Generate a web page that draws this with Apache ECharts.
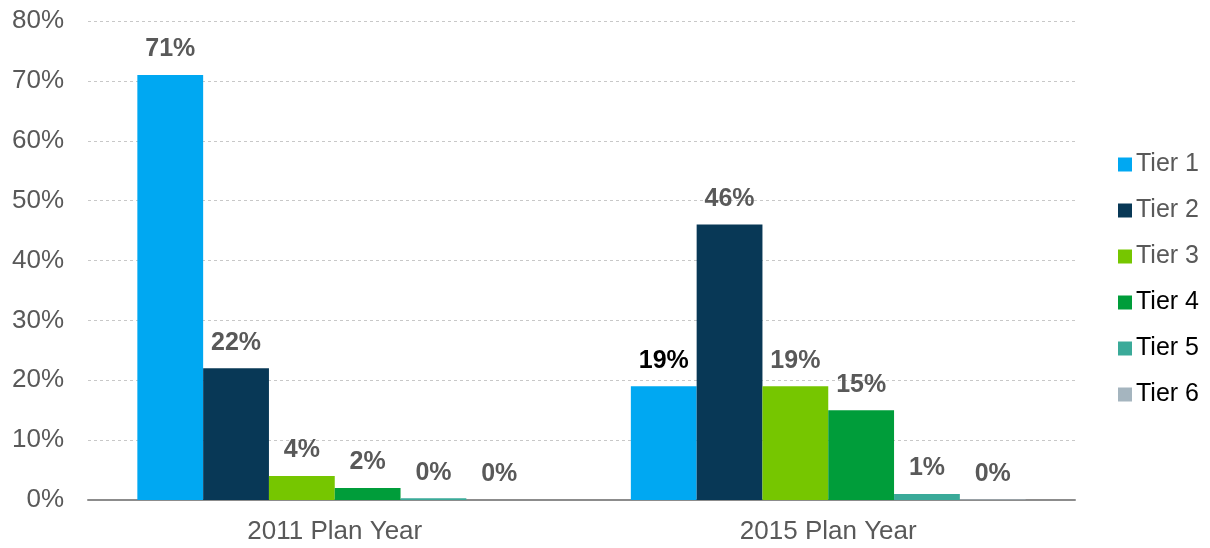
<!DOCTYPE html>
<html><head><meta charset="utf-8">
<script src="https://cdn.jsdelivr.net/npm/echarts@6/dist/echarts.min.js"></script>
<style>html,body{margin:0;padding:0;background:#fff}#c{width:1210px;height:548px}</style>
</head><body><div id="c"></div>
<script>
const categories = ['2011 Plan Year', '2015 Plan Year'];
const tierNames = ['Tier 1', 'Tier 2', 'Tier 3', 'Tier 4', 'Tier 5', 'Tier 6'];
const tier1 = [71, 19];
const tier2 = [22, 46];
const tier3 = [4, 19];
const tier4 = [2, 15];
const tier5 = [0.3, 1];
const tier6 = [0, 0.1];
const labelText = [['71%', '19%'], ['22%', '46%'], ['4%', '19%'], ['2%', '15%'], ['0%', '1%'], ['0%', '0%']];
const yTicks = [0, 10, 20, 30, 40, 50, 60, 70, 80];
const colors = ['#00A8F2', '#083856', '#76C600', '#009D3A', '#3AAA99', '#A5B5BF'];
const legendTextColors = ['#595959', '#595959', '#595959', '#000000', '#000000', '#000000'];

const allValues = [tier1, tier2, tier3, tier4, tier5, tier6];
const chart = echarts.init(document.getElementById('c'));
const FONT = 'Liberation Sans, Arial, sans-serif';
chart.setOption({
  animation: false,
  grid: { left: 88, right: 135, top: 21, bottom: 48, containLabel: false },
  legend: {
    orient: 'vertical', left: 1113, top: 147, itemWidth: 14, itemHeight: 14, itemGap: 21,
    icon: 'rect',
    textStyle: { fontFamily: FONT, fontSize: 25, padding: [0, 0, 0, -1] },
    data: tierNames.map((n, i) => ({ name: n, textStyle: { color: legendTextColors[i] } }))
  },
  xAxis: {
    type: 'category', data: categories,
    axisLine: { lineStyle: { color: '#8C8C8C', width: 2 } },
    axisTick: { show: false },
    axisLabel: { color: '#595959', fontFamily: FONT, fontSize: 26, margin: 19 }
  },
  yAxis: {
    type: 'value', min: 0, max: 80, interval: 10,
    axisLine: { show: false }, axisTick: { show: false },
    axisLabel: { color: '#595959', fontFamily: FONT, fontSize: 26, margin: 24, formatter: v => v + '%' },
    splitLine: { lineStyle: { color: '#C8C8C8', type: [3, 3], width: 1 } }
  },
  series: allValues.map((vals, i) => ({
    name: tierNames[i], type: 'bar', barGap: '0%', barCategoryGap: '20%',
    itemStyle: { color: colors[i] },
    data: vals.map((v, j) => ({
      value: v,
      label: {
        show: true, position: 'top', distance: 13,
        formatter: labelText[i][j],
        color: (i === 0 && j === 1) ? '#000000' : '#595959',
        fontFamily: FONT, fontSize: 25, fontWeight: 'bold'
      }
    }))
  }))
});
</script></body></html>
